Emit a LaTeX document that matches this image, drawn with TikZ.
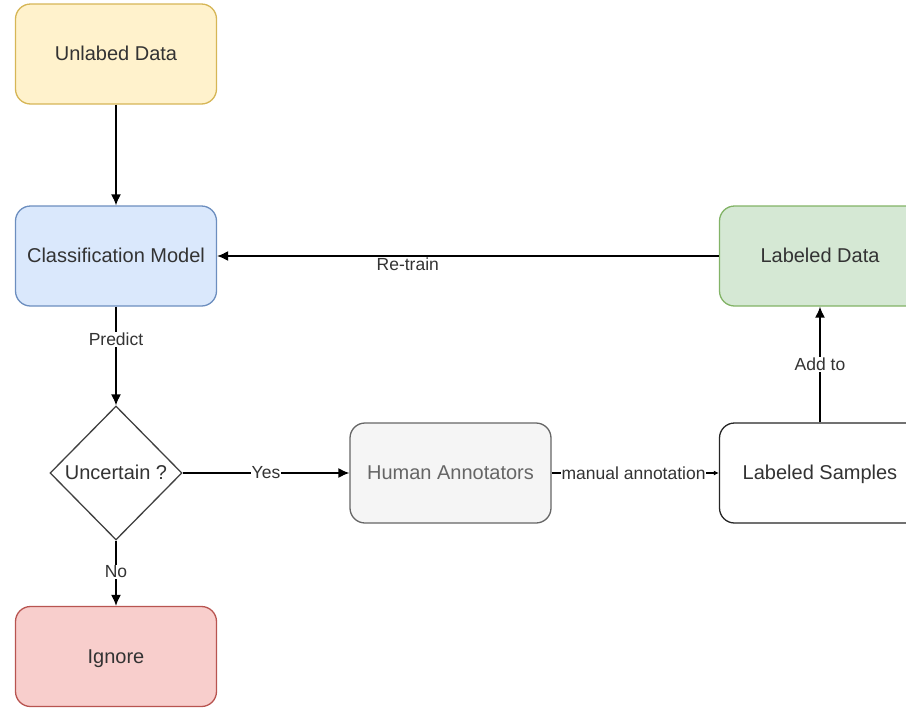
\documentclass[tikz,border=0pt]{standalone}
\usepackage{fontspec}
\setmainfont{Liberation Sans}
\usetikzlibrary{shapes.geometric,arrows.meta}
\definecolor{ylwF}{HTML}{FFF2CC}\definecolor{ylwD}{HTML}{D6B656}
\definecolor{bluF}{HTML}{DAE8FC}\definecolor{bluD}{HTML}{6C8EBF}
\definecolor{grnF}{HTML}{D5E8D4}\definecolor{grnD}{HTML}{82B366}
\definecolor{redF}{HTML}{F8CECC}\definecolor{redD}{HTML}{B85450}
\definecolor{gryF}{HTML}{F5F5F5}\definecolor{gryD}{HTML}{666666}
\definecolor{txt}{HTML}{333333}
\begin{document}
\begin{tikzpicture}[x=1pt,y=-1pt,
  box/.style={draw, rounded corners=15pt, minimum width=201pt, minimum height=100pt,
    line width=1.3pt, text=txt, font=\fontsize{20}{23}\selectfont, inner sep=0pt,
    text height=13pt, text depth=0pt},
  dia/.style={draw, diamond, minimum width=132pt, minimum height=134pt, aspect=1,
    line width=1.3pt, text=txt, font=\fontsize{20}{23}\selectfont, inner sep=0pt,
    text height=13pt, text depth=0pt},
  conn/.style={line width=1.5pt, -{Latex[length=11pt,width=10pt]}},
  lbl/.style={fill=white, inner sep=1pt, text=txt, font=\fontsize{17.5}{20}\selectfont}]
\useasboundingbox (0,0) rectangle (906,710);
\clip (0,0) rectangle (906,710);
\node[box, fill=ylwF, draw=ylwD] (unl) at (116,54) {Unlabed Data};
\node[box, fill=bluF, draw=bluD] (cls) at (116,256) {Classification Model};
\node[box, fill=grnF, draw=grnD] (ld) at (820,256) {Labeled Data};
\node[dia, fill=white, draw=black!75] (unc) at (116,473) {Uncertain ?};
\node[box, fill=gryF, draw=gryD, text=gryD] (hum) at (450.5,473) {Human Annotators};
\node[box, fill=white, draw=black!85] (ls) at (820,473) {Labeled Samples};
\node[box, fill=redF, draw=redD] (ign) at (116,656.5) {Ignore};

\draw[conn] (unl) -- (cls);
\draw[conn] (ld) -- node[lbl, pos=0.62, yshift=-8pt] {Re-train} (cls);
\draw[conn] (cls) -- node[lbl, pos=0.33] {Predict} (unc);
\draw[conn] (unc) -- node[lbl, pos=0.5] {Yes} (hum);
\draw[conn] (unc) -- node[lbl, pos=0.48] {No} (ign);
\draw[line width=1.5pt, -{Latex[length=5pt,width=5pt]}] (hum) -- node[lbl, inner sep=0.5pt, pos=0.49] {manual annotation} (ls);
\draw[conn] (ls) -- node[lbl, pos=0.5] {Add to} (ld);
\end{tikzpicture}
\end{document}
